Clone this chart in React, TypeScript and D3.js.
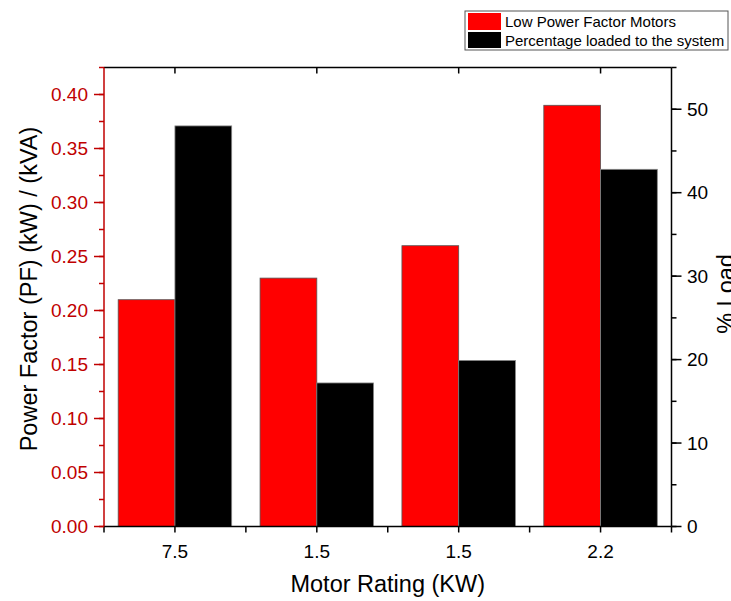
import React from "react";
import * as d3 from "d3";

const categories = ["7.5", "1.5", "1.5", "2.2"];
const powerFactor = [0.21, 0.23, 0.26, 0.39];
const percentLoad = [48.0, 17.2, 19.9, 42.8];
const leftTicks = [0, 0.05, 0.1, 0.15, 0.2, 0.25, 0.3, 0.35, 0.4];
const rightTicks = [0, 10, 20, 30, 40, 50];
const seriesNames = ["Low Power Factor Motors", "Percentage loaded to the system"];

const W = 731;
const H = 601;
const M = { left: 104, right: 671.5, top: 67.5, bottom: 526.5 };
const FONT = "'Liberation Sans', Arial, sans-serif";
const RED = "#ff0000";
const AXRED = "#c00000";

export default function App() {
  const idx = categories.map((_, i) => i);
  const x = d3.scaleBand<number>().domain(idx).range([M.left, M.right]).padding(0);
  const inner = d3.scaleBand<number>().domain([0, 1]).range([x.bandwidth() * 0.1, x.bandwidth() * 0.9]).padding(0);
  const yL = d3.scaleLinear().domain([0, 0.425]).range([M.bottom, M.top]);
  const yR = d3.scaleLinear().domain([0, 55]).range([M.bottom, M.top]);
  const leftMinor = d3.range(0, 0.426, 0.025);
  const rightMinor = d3.range(0, 55.1, 5);
  const boundaries = d3.range(0, categories.length + 1).map((i) => M.left + i * x.bandwidth());

  return (
    <svg width={W} height={H} style={{ position: "absolute", left: 0, top: 0, background: "#fff" }} fontFamily={FONT}>
      <rect x={0} y={0} width={W} height={H} fill="#fff" />
      {/* bars */}
      {idx.map((i) => (
        <g key={i}>
          <rect
            x={(x(i) as number) + (inner(0) as number)}
            y={yL(powerFactor[i])}
            width={inner.bandwidth()}
            height={M.bottom - yL(powerFactor[i])}
            fill={RED}
            stroke="#555"
            strokeWidth={0.8}
          />
          <rect
            x={(x(i) as number) + (inner(1) as number)}
            y={yR(percentLoad[i])}
            width={inner.bandwidth()}
            height={M.bottom - yR(percentLoad[i])}
            fill="#000"
            stroke="#888"
            strokeWidth={0.8}
          />
        </g>
      ))}
      {/* frame */}
      <line x1={M.left} x2={M.right} y1={M.top} y2={M.top} stroke="#000" strokeWidth={1.5} />
      <line x1={M.left} x2={M.right} y1={M.bottom} y2={M.bottom} stroke="#000" strokeWidth={1.5} />
      <line x1={M.right} x2={M.right} y1={M.top} y2={M.bottom} stroke="#000" strokeWidth={1.5} />
      {/* x ticks */}
      {boundaries.map((bx, i) => (
        <line key={"b" + i} x1={bx} x2={bx} y1={M.bottom} y2={M.bottom + 6} stroke="#000" strokeWidth={1.5} />
      ))}
      {idx.map((i) => {
        const cx = (x(i) as number) + x.bandwidth() / 2;
        return (
          <g key={"xt" + i}>
            <line x1={cx} x2={cx} y1={M.bottom} y2={M.bottom + 6} stroke="#000" strokeWidth={1.5} />
            <line x1={cx} x2={cx} y1={M.top} y2={M.top + 6} stroke="#000" strokeWidth={1.5} />
            <text x={cx} y={558} textAnchor="middle" fontSize={19} fill="#000">
              {categories[i]}
            </text>
          </g>
        );
      })}
      {/* left axis */}
      <line x1={M.left} x2={M.left} y1={M.top} y2={M.bottom} stroke={AXRED} strokeWidth={1.5} />
      {leftMinor.map((v, i) => (
        <line key={"lm" + i} x1={M.left - 5} x2={M.left} y1={yL(v)} y2={yL(v)} stroke={AXRED} strokeWidth={1.5} />
      ))}
      {leftTicks.map((v, i) => (
        <g key={"lt" + i}>
          <line x1={M.left - 10} x2={M.left} y1={yL(v)} y2={yL(v)} stroke={AXRED} strokeWidth={1.5} />
          <text x={M.left - 16} y={yL(v)} dy="0.35em" textAnchor="end" fontSize={19} fill={AXRED}>
            {d3.format(".2f")(v)}
          </text>
        </g>
      ))}
      {/* right axis */}
      {rightMinor.map((v, i) => (
        <line key={"rm" + i} x1={M.right} x2={M.right + 5} y1={yR(v)} y2={yR(v)} stroke="#000" strokeWidth={1.5} />
      ))}
      {rightTicks.map((v, i) => (
        <g key={"rt" + i}>
          <line x1={M.right} x2={M.right + 10} y1={yR(v)} y2={yR(v)} stroke="#000" strokeWidth={1.5} />
          <text x={M.right + 15.5} y={yR(v)} dy="0.35em" textAnchor="start" fontSize={19} fill="#000">
            {v}
          </text>
        </g>
      ))}
      {/* titles */}
      <text x={(M.left + M.right) / 2} y={592} textAnchor="middle" fontSize={23.5} fill="#000">
        Motor Rating (KW)
      </text>
      <text transform={`translate(37,289) rotate(-90)`} textAnchor="middle" fontSize={23.5} fill="#000">
        Power Factor (PF) (kW) / (kVA)
      </text>
      <text transform={`translate(734,294) rotate(-90)`} textAnchor="middle" fontSize={23.5} fill="#000">
        % Load
      </text>
      {/* legend */}
      <rect x={465} y={11} width={263} height={39} fill="#fff" stroke="#555" strokeWidth={1} />
      <rect x={468} y={13} width={33} height={17} fill={RED} />
      <rect x={468} y={32} width={33} height={16} fill="#000" />
      <text x={505} y={27} fontSize={15} fill="#000">
        {seriesNames[0]}
      </text>
      <text x={505} y={46} fontSize={15} fill="#000">
        {seriesNames[1]}
      </text>
    </svg>
  );
}
